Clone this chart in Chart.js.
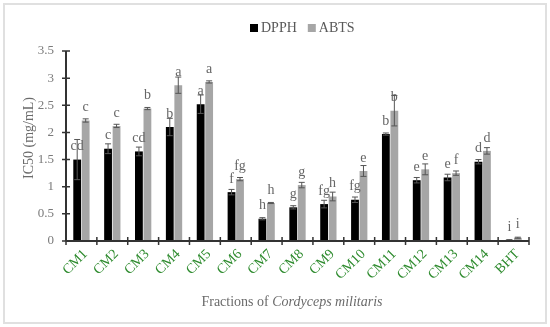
<!DOCTYPE html>
<html>
<head>
<meta charset="utf-8">
<script src="https://cdn.jsdelivr.net/npm/chart.js@4/dist/chart.umd.min.js"></script>
<style>
html,body{margin:0;padding:0;background:#fff;}
#wrap{position:relative;width:550px;height:327px;}
#frame{position:absolute;left:3px;top:3px;width:540px;height:317px;border:2px solid #e0e0e0;box-sizing:content-box;pointer-events:none;}
canvas{position:absolute;left:0;top:0;}
</style>
</head>
<body>
<div id="wrap"><canvas id="c" width="550" height="327"></canvas><div id="frame"></div></div>
<script>
const categories = ['CM1','CM2','CM3','CM4','CM5','CM6','CM7','CM8','CM9','CM10','CM11','CM12','CM13','CM14','BHT'];
const dpph = [1.50,1.70,1.65,2.10,2.52,0.90,0.41,0.62,0.68,0.76,1.97,1.12,1.17,1.46,0.02];
const dpphErr = [0.37,0.09,0.08,0.16,0.17,0.05,0.02,0.03,0.07,0.05,0.02,0.05,0.06,0.04,0.005];
const abts = [2.22,2.12,2.44,2.87,2.93,1.14,0.70,1.03,0.82,1.29,2.40,1.32,1.25,1.66,0.06];
const abtsErr = [0.03,0.03,0.02,0.15,0.02,0.03,0.01,0.05,0.08,0.10,0.28,0.10,0.04,0.06,0.01];
const dpphLetters = ['cd','c','cd','b','a','f','h','g','fg','fg','b','e','e','d','i'];
const abtsLetters = ['c','c','b','a','a','fg','h','g','h','e','b','e','f','d','i'];
const yTicks = [0,0.5,1,1.5,2,2.5,3,3.5];

const SERIF = '"Liberation Serif", "DejaVu Serif", serif';

const extras = {
  id: 'extras',
  afterDatasetsDraw(chart) {
    const ctx = chart.ctx;
    const x = chart.scales.x, y = chart.scales.y;
    const area = chart.chartArea;
    const errs = [dpphErr, abtsErr];
    const letters = [dpphLetters, abtsLetters];
    ctx.save();
    chart.data.datasets.forEach((ds, di) => {
      const meta = chart.getDatasetMeta(di);
      meta.data.forEach((bar, i) => {
        const v = ds.data[i], e = errs[di][i];
        const yt = y.getPixelForValue(v + e), yb = y.getPixelForValue(Math.max(0, v - e));
        ctx.strokeStyle = '#555';
        ctx.lineWidth = 1;
        ctx.beginPath();
        ctx.moveTo(bar.x, yt); ctx.lineTo(bar.x, yb);
        ctx.moveTo(bar.x - 3, yt); ctx.lineTo(bar.x + 3, yt);
        ctx.moveTo(bar.x - 3, yb); ctx.lineTo(bar.x + 3, yb);
        ctx.stroke();
        ctx.fillStyle = '#666';
        ctx.font = '14px ' + SERIF;
        ctx.textAlign = 'center';
        ctx.textBaseline = 'middle';
        ctx.fillText(letters[di][i], bar.x, bar.y - 13);
      });
    });
    ctx.strokeStyle = '#333';
    ctx.lineWidth = 2;
    ctx.beginPath();
    ctx.moveTo(area.left, y.getPixelForValue(3.5)); ctx.lineTo(area.left, area.bottom);
    ctx.moveTo(area.left, area.bottom); ctx.lineTo(area.right, area.bottom);
    ctx.stroke();
    ctx.lineWidth = 1.5;
    ctx.beginPath();
    yTicks.forEach(t => {
      const py = y.getPixelForValue(t);
      ctx.moveTo(area.left - 4, py); ctx.lineTo(area.left + 4, py);
    });
    for (let i = 0; i <= categories.length; i++) {
      const px = area.left + (area.right - area.left) * i / categories.length;
      ctx.moveTo(px, area.bottom - 4); ctx.lineTo(px, area.bottom + 4);
    }
    ctx.stroke();
    ctx.textAlign = 'left';
    ctx.textBaseline = 'middle';
    ctx.font = '14px ' + SERIF;
    let lx = 250;
    const ly = 28;
    chart.data.datasets.forEach((ds) => {
      ctx.fillStyle = ds.backgroundColor;
      ctx.fillRect(lx, ly - 4, 8, 8);
      ctx.fillStyle = '#595959';
      ctx.fillText(ds.label, lx + 11, ly);
      lx += 11 + ctx.measureText(ds.label).width + 11;
    });
    ctx.save();
    ctx.translate(29, 138);
    ctx.rotate(-Math.PI / 2);
    ctx.textAlign = 'center';
    ctx.fillStyle = '#6b6b6b';
    ctx.font = '14px ' + SERIF;
    ctx.fillText('IC50 (mg/mL)', 0, 0);
    ctx.restore();
    const p1 = 'Fractions of ', p2 = 'Cordyceps militaris';
    ctx.font = '14px ' + SERIF;
    const w1 = ctx.measureText(p1).width;
    ctx.font = 'italic 14px ' + SERIF;
    const w2 = ctx.measureText(p2).width;
    const cx = 292;
    let sx = cx - (w1 + w2) / 2;
    ctx.fillStyle = '#6b6b6b';
    ctx.textAlign = 'left';
    ctx.font = '14px ' + SERIF;
    ctx.fillText(p1, sx, 302);
    ctx.font = 'italic 14px ' + SERIF;
    ctx.fillText(p2, sx + w1, 302);
    ctx.restore();
  }
};

new Chart(document.getElementById('c'), {
  type: 'bar',
  data: {
    labels: categories,
    datasets: [
      { label: 'DPPH', data: dpph, backgroundColor: '#000000', categoryPercentage: 0.55, barPercentage: 0.92 },
      { label: 'ABTS', data: abts, backgroundColor: '#a6a6a6', categoryPercentage: 0.55, barPercentage: 0.92 }
    ]
  },
  options: {
    responsive: false,
    animation: false,
    events: [],
    layout: { padding: { left: 0, right: 21, top: 51, bottom: 0 } },
    plugins: { legend: { display: false }, tooltip: { enabled: false } },
    scales: {
      x: {
        offset: true,
        grid: { display: false },
        border: { display: false },
        ticks: { color: '#2e8b2e', font: { family: SERIF, size: 14 }, maxRotation: 45, minRotation: 45, padding: -3, labelOffset: 4, autoSkip: false },
        afterFit(s) { s.height = 86; }
      },
      y: {
        min: 0, max: 3.5,
        grid: { display: false },
        border: { display: false },
        ticks: { stepSize: 0.5, color: '#7a7a7a', font: { family: SERIF, size: 13 }, padding: 4, callback: v => String(v) },
        afterFit(s) { s.width = 66; }
      }
    }
  },
  plugins: [extras]
});
</script>
</body>
</html>
